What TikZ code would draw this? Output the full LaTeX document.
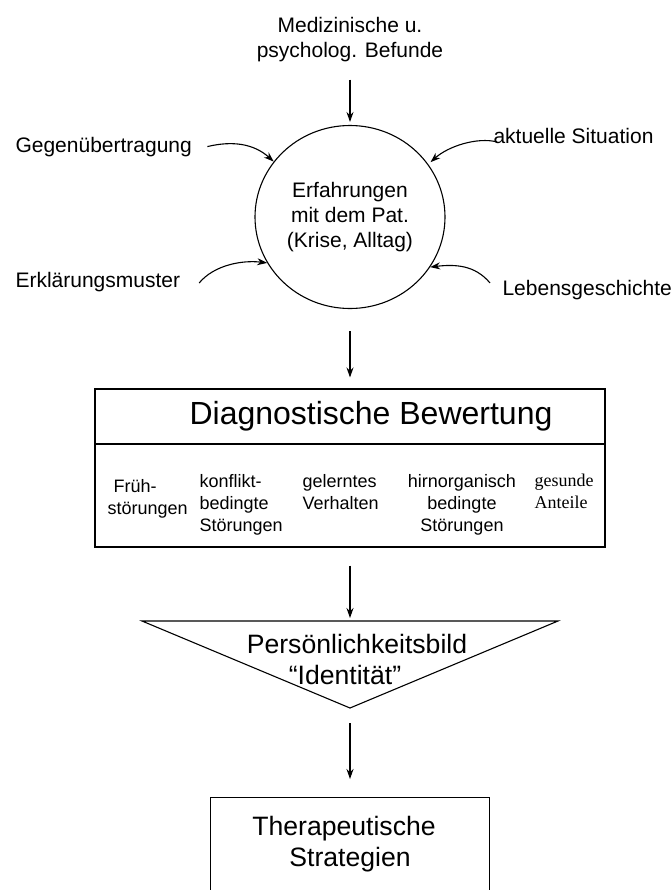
\documentclass[tikz,border=0pt]{standalone}
\usepackage{fontspec}
\setmainfont{Liberation Sans}
\newfontfamily\serifnote{Liberation Serif}
\usepackage{tikz}
\usetikzlibrary{arrows.meta, shapes.geometric}

\begin{document}
\begin{tikzpicture}[x=0.5pt, y=-0.5pt, line width=0.55pt,
    arr/.style={-{Stealth[length=5pt, width=3.5pt]}},
    txt/.style={inner sep=0pt, font=\fontsize{10.5}{12.5}\selectfont},
    colt/.style={inner sep=0pt, font=\fontsize{9}{11}\selectfont},
    bigt/.style={inner sep=0pt, font=\fontsize{13.3}{15.5}\selectfont, align=center},
    box/.style={draw, rectangle, inner sep=0pt}]
    \useasboundingbox (0,0) rectangle (672,890);
    \clip (0,0) rectangle (672,890);

    % Inputs round the circle
    \node[txt, align=center, anchor=north] (befunde) at (350,17) {Medizinische u.\\psycholog. Befunde};
    \node[txt, anchor=base west] (gegen) at (15,152) {Gegenübertragung};
    \node[txt, anchor=base west] (aktuell) at (493,143) {aktuelle Situation};
    \node[txt, anchor=base west] (erklaer) at (15,287) {Erklärungsmuster};
    \node[txt, anchor=base west] (leben) at (502,295) {Lebensgeschichte};

    \node[draw, ellipse, txt, align=center, minimum width=95pt, minimum height=91.5pt] (erf) at (350,217) {Erfahrungen\\mit dem Pat.\\(Krise, Alltag)};

    \draw[arr, shorten <=8.5pt, shorten >=1.5pt] (befunde.south) -- (erf.north);
    \draw[arr] ([xshift=7.5pt]gegen.east) .. controls +(25,-6) and +(-20,-18) .. (erf.144);
    \draw[arr, shorten >=1.5pt] ([xshift=2pt, yshift=-3.2pt]aktuell.west) .. controls +(-20,-5) and +(20,-18) .. (erf.34);
    \draw[arr] ([xshift=9.25pt, yshift=-0.7pt]erklaer.east) .. controls +(15,-18) and +(-25,-3) .. (erf.209);
    \draw[arr] ([xshift=-6pt, yshift=3.3pt]leben.west) .. controls +(-15,-18) and +(25,-3) .. (erf.328);

    % Diagnostic box
    \node[box, minimum width=255pt, minimum height=27.5pt, font=\fontsize{16}{19}\selectfont] (diag) at (350,416.5) {\hspace*{21pt}Diagnostische Bewertung};
    \node[box, minimum width=255pt, minimum height=51.5pt] (unten) at (350,495.5) {};
    \draw[arr, shorten <=11pt, shorten >=5.5pt] (erf.south) -- (diag.north);

    \node[colt, align=left, anchor=north west] (frueh) at (107,479) {\hspace*{3pt}Früh-\\störungen};
    \node[colt, align=left, anchor=north west] (konflikt) at (199,474) {konflikt-\\bedingte\\Störungen};
    \node[colt, align=left, anchor=north west] (gelernt) at (302,474) {gelerntes\\Verhalten};
    \node[colt, align=center, anchor=north] (hirn) at (462,474) {hirnorganisch\\bedingte\\Störungen};
    \node[colt, align=left, anchor=north west, font=\fontsize{9}{11}\serifnote] (gesund) at (534,473) {gesunde\\Anteile};

    % Triangle
    \coordinate (tl) at (142,621);
    \coordinate (tr) at (558,621);
    \coordinate (tip) at (350,708);
    \coordinate (ttop) at (350,621);
    \draw (tl) -- (tr) -- (tip) -- cycle;
    \node[bigt, anchor=north] (pers) at (350,634) {\hspace*{7pt}Persönlichkeitsbild\\“Identität”\hspace*{5pt}};
    \draw[arr, shorten <=9pt, shorten >=1.5pt] (unten.south) -- (ttop);

    % Strategies
    \node[box, minimum width=139.5pt, minimum height=120pt, anchor=north] (thera) at (350,797) {};
    \node[bigt, anchor=north] (theratext) at (350,816) {Therapeutische\hspace*{6pt}\\Strategien};
    \draw[arr, shorten <=7.5pt, shorten >=9pt] (tip) -- (thera.north);
\end{tikzpicture}
\end{document}
